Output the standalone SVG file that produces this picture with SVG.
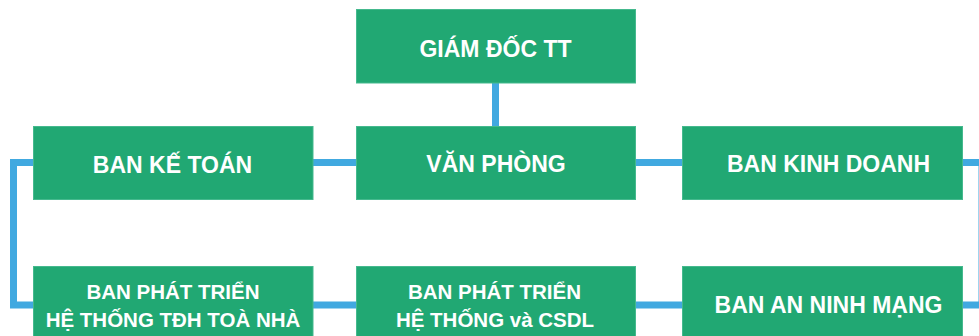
<svg xmlns="http://www.w3.org/2000/svg" width="979" height="336" viewBox="0 0 979 336">
<style>
.box{fill:#21A873;stroke:#45B98E;stroke-width:1}
.t{fill:#FFFFFF;font-family:"Liberation Sans",Arial,sans-serif;font-weight:bold;font-size:23px;text-anchor:middle}
.t2{font-size:20.5px}
.c{fill:none;stroke:#41A9E0;stroke-width:7}
</style>
<rect width="979" height="336" fill="#FFFFFF"/>
<g id="connectors">
<path class="c" d="M495.5 83 V126"/>
<path class="c" d="M33 162.5 H13.5 V305 H33"/>
<path class="c" d="M313 162.5 H356 M636 162.5 H682 M313 305 H356 M636 305 H682"/>
<path class="c" d="M963 162.5 H982 V305 H963"/>
</g>
<g id="giam-doc">
<rect class="box" x="356.5" y="9.5" width="279" height="73.5"/>
<text class="t" x="495.5" y="57">GIÁM ĐỐC TT</text>
</g>
<g id="van-phong">
<rect class="box" x="356.5" y="126.5" width="279" height="73"/>
<text class="t" x="496" y="172">VĂN PHÒNG</text>
</g>
<g id="ke-toan">
<rect class="box" x="33.5" y="126.5" width="279.5" height="73"/>
<text class="t" x="172.5" y="173">BAN KẾ TOÁN</text>
</g>
<g id="kinh-doanh">
<rect class="box" x="682.5" y="126.5" width="280" height="73"/>
<text class="t" x="828.5" y="172">BAN KINH DOANH</text>
</g>
<g id="tdh-toa-nha">
<rect class="box" x="33.5" y="266.5" width="279.5" height="80"/>
<text class="t t2" x="173" y="298.5">BAN PHÁT TRIỂN</text>
<text class="t t2" x="173" y="326.5">HỆ THỐNG TĐH TOÀ NHÀ</text>
</g>
<g id="csdl">
<rect class="box" x="356.5" y="266.5" width="279" height="80"/>
<text class="t t2" x="494.5" y="298.5">BAN PHÁT TRIỂN</text>
<text class="t t2" x="495" y="327">HỆ THỐNG và CSDL</text>
</g>
<g id="an-ninh-mang">
<rect class="box" x="682.5" y="266.5" width="280" height="80"/>
<text class="t" x="828.5" y="313">BAN AN NINH MẠNG</text>
</g>
</svg>
